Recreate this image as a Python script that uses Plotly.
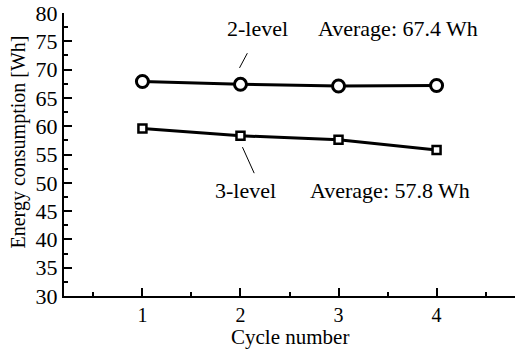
import plotly.graph_objects as go

# Energy per driving cycle for the two converter topologies
cycles = [1, 2, 3, 4]
two_level = [67.9, 67.4, 67.1, 67.2]
three_level = [59.6, 58.3, 57.6, 55.8]

avg_two = sum(two_level) / len(two_level)
avg_three = sum(three_level) / len(three_level)

FONT = "Liberation Serif, Times New Roman, serif"
SIZE = 22

fig = go.Figure()
fig.add_trace(go.Scatter(
    x=cycles, y=two_level, mode="lines+markers",
    line=dict(color="black", width=3),
    marker=dict(symbol="circle", size=12, color="white",
                line=dict(color="black", width=3)),
    showlegend=False,
))
fig.add_trace(go.Scatter(
    x=cycles, y=three_level, mode="lines+markers",
    line=dict(color="black", width=3),
    marker=dict(symbol="square", size=8, color="white",
                line=dict(color="black", width=2.5)),
    showlegend=False,
))

# leader lines from labels to the series
fig.add_shape(type="line", x0=1.99, y0=70.3, x1=2.07, y1=72.9,
              line=dict(color="black", width=1))
fig.add_shape(type="line", x0=2.02, y0=56.3, x1=2.14, y1=51.7,
              line=dict(color="black", width=1))

ann_font = dict(family=FONT, size=SIZE, color="black")
fig.add_annotation(x=2.17, y=77.3, text="2-level", showarrow=False, font=ann_font)
fig.add_annotation(x=3.61, y=77.3, text=f"Average: {avg_two:.1f} Wh",
                   showarrow=False, font=ann_font)
fig.add_annotation(x=2.05, y=48.7, text="3-level", showarrow=False, font=ann_font)
fig.add_annotation(x=3.53, y=48.7, text=f"Average: {avg_three:.1f} Wh",
                   showarrow=False, font=ann_font)

# axis titles
fig.add_annotation(xref="paper", yref="paper", x=0.5, y=-0.145,
                   text="Cycle number", showarrow=False,
                   xanchor="center", yanchor="middle",
                   font=dict(family=FONT, size=21, color="black"))
fig.add_annotation(xref="paper", yref="paper", x=-0.102, y=0.546,
                   text="Energy consumption [Wh]", showarrow=False, textangle=-90,
                   xanchor="center", yanchor="middle",
                   font=dict(family=FONT, size=20, color="black"))

fig.update_xaxes(
    range=[0.2, 4.8], tickvals=cycles, ticks="inside", ticklen=8, tickwidth=1.5,
    tickcolor="black", showline=True, linecolor="black", linewidth=2,
    showgrid=False, zeroline=False,
    minor=dict(tickvals=[0.5, 1.5, 2.5, 3.5, 4.5], ticks="inside", ticklen=4,
               tickwidth=1.5, tickcolor="black", showgrid=False),
    tickfont=dict(family=FONT, size=20, color="black"),
)
fig.update_yaxes(
    range=[30, 80], dtick=5, ticks="inside", ticklen=8, tickwidth=1.5,
    tickcolor="black", showline=True, linecolor="black", linewidth=2,
    showgrid=False, zeroline=False,
    minor=dict(dtick=2.5, ticks="inside", ticklen=4, tickwidth=1.5,
               tickcolor="black", showgrid=False),
    tickfont=dict(family=FONT, size=SIZE, color="black"),
)

fig.update_layout(
    width=515, height=349,
    margin=dict(l=64, r=0, t=13, b=53),
    plot_bgcolor="white", paper_bgcolor="white",
)

fig.write_html("out.html")
